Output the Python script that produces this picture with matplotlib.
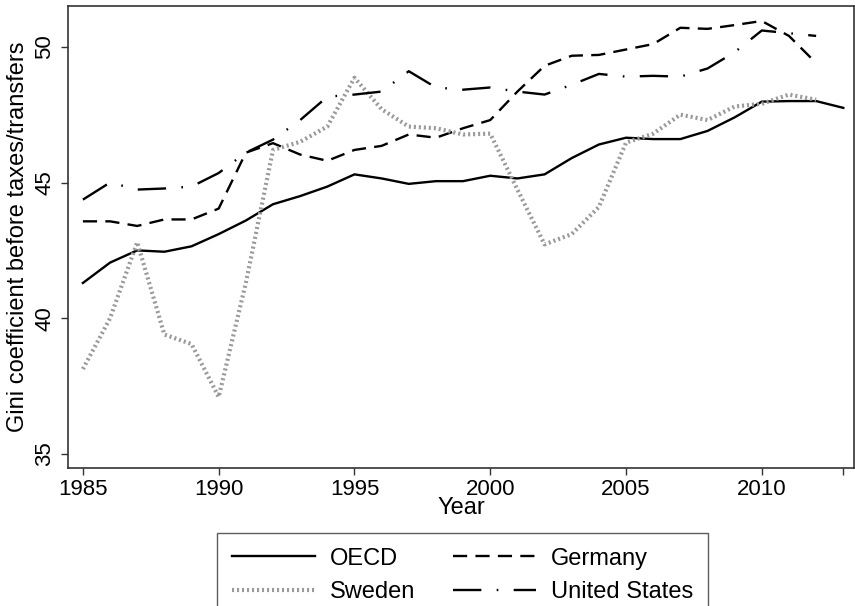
import numpy as np
import matplotlib
matplotlib.use('Agg')
from matplotlib import pyplot as plt

plt.rcParams['font.family'] = ['Liberation Sans', 'DejaVu Sans']

years = list(range(1985, 2014))

oecd = [41.3, 42.05, 42.5, 42.45, 42.65, 43.1, 43.6, 44.2, 44.5, 44.85,
        45.3, 45.15, 44.95, 45.05, 45.05, 45.25, 45.15, 45.3, 45.9, 46.4,
        46.65, 46.6, 46.6, 46.9, 47.4, 47.98, 48.0, 48.0, 47.75]

germany = [43.57, 43.57, 43.4, 43.64, 43.64, 44.04, 46.1, 46.45, 46.03, 45.8,
           46.2, 46.35, 46.77, 46.65, 47.0, 47.3, 48.35, 49.3, 49.67, 49.7,
           49.9, 50.1, 50.7, 50.66, 50.8, 50.95, 50.4, 49.4]

sweden = [38.13, 40.0, 42.8, 39.4, 39.05, 37.1, 41.3, 46.2, 46.5, 47.06,
          48.86, 47.7, 47.06, 47.0, 46.77, 46.8, 44.74, 42.72, 43.1, 44.1,
          46.47, 46.8, 47.5, 47.3, 47.8, 47.9, 48.24, 48.05]

usa = [44.37, 45.0, 44.74, 44.78, 44.85, 45.35, 46.1, 46.58, 47.3, 48.16,
       48.24, 48.35, 49.1, 48.5, 48.42, 48.5, 48.35, 48.24, 48.6, 49.0,
       48.9, 48.93, 48.9, 49.2, 49.8, 50.6, 50.5, 50.4]

fig = plt.figure(figsize=(8.55, 6.06), dpi=100)
ax = fig.add_axes([0.0795, 0.228, 0.9195, 0.762])

ax.plot(years, oecd, color='black', lw=1.7, label='OECD')
ax.plot(years[:len(germany)], germany, color='black', lw=1.7,
        dashes=(6, 3.5), label='Germany')
ax.plot(years[:len(sweden)], sweden, color='#9a9a9a', lw=3.0,
        dashes=(0.5, 0.7), label='Sweden')
ax.plot(years[:len(usa)], usa, color='black', lw=1.7,
        dashes=(12, 6.5, 0.7, 6.5), label='United States')

ax.set_xlim(1984.45, 2013.4)
ax.set_ylim(34.49, 51.5)
ax.set_xticks([1985, 1990, 1995, 2000, 2005, 2010, 2013])
ax.set_xticklabels(['1985', '1990', '1995', '2000', '2005', '2010', ''])
ax.set_yticks([35, 40, 45, 50])
ax.tick_params(axis='both', labelsize=16, length=5, width=1, color='#333333')
ax.tick_params(axis='x', pad=3)
ax.tick_params(axis='y', pad=4)
for lab in ax.get_yticklabels():
    lab.set_rotation(90)
    lab.set_va('center')
for s in ax.spines.values():
    s.set_color('#333333')
    s.set_linewidth(1.2)

ax.set_xlabel('Year', fontsize=17, labelpad=-2)
ax.set_ylabel('Gini coefficient before taxes/transfers', fontsize=17, labelpad=4)

handles, labels = ax.get_legend_handles_labels()
order = [0, 2, 1, 3]
leg = fig.legend([handles[i] for i in order], [labels[i] for i in order],
                 loc='upper center', bbox_to_anchor=(0.541, 0.1205),
                 ncol=2, fontsize=17, frameon=True, fancybox=False,
                 handlelength=3.5, handletextpad=0.65, columnspacing=1.6,
                 labelspacing=0.5, borderpad=0.62, borderaxespad=0)
leg.get_frame().set_edgecolor('#333333')
leg.get_frame().set_linewidth(1.0)

fig.savefig('out.png', dpi=100)
